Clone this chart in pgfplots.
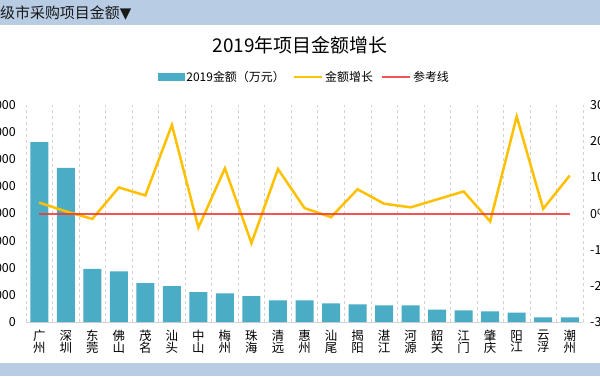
\documentclass[border=0pt]{standalone}
\usepackage{fontspec}
\setmainfont{Noto Sans CJK SC}
\newfontfamily\dejavu{DejaVu Sans}
\usepackage{pgfplots}
\pgfplotsset{compat=1.18}
\definecolor{hdr}{RGB}{184,204,228}
\definecolor{barblue}{RGB}{75,172,198}
\definecolor{gold}{RGB}{255,192,0}
\definecolor{refred}{RGB}{240,55,55}
\definecolor{gridc}{RGB}{210,210,210}
\pgfplotstableread{
x amount growth
1 6630 3.0
2 5680 0.6
3 1960 -1.5
4 1870 7.2
5 1430 5.0
6 1320 24.5
7 1100 -3.9
8 1060 12.5
9 950 -8.2
10 800 12.3
11 800 1.5
12 690 -1.0
13 650 6.7
14 610 2.7
15 610 1.7
16 460 3.9
17 430 6.1
18 390 -2.2
19 350 26.8
20 170 1.3
21 170 10.5
}\datatable
\begin{document}
\begin{tikzpicture}[x=1bp,y=1bp]
\useasboundingbox (0,0) rectangle (600,376);
\clip (0,0) rectangle (600,376);
\fill[white] (0,0) rectangle (600,376);
\fill[hdr] (0,351) rectangle (600,376);
\fill[hdr] (0,0) rectangle (600,13);
\node[anchor=west, inner sep=0, text=black!90, font=\fontsize{15}{18}\selectfont] at (0,362.5) {级市采购项目金额{\dejavu ▼}};
\node[inner sep=0, font=\fontsize{19}{23}\selectfont] at (300,330.5) {2019年项目金额增长};
\begin{axis}[
  at={(26bp,54bp)}, anchor=south west,
  scale only axis, width=557bp, height=217bp,
  xmin=0.5, xmax=21.5, ymin=0, ymax=8000,
  axis y line*=left, axis x line*=bottom,
  y axis line style={draw=none},
  x axis line style={draw=gridc, line width=0.8bp},
  xtick={1,...,21},
  xticklabels={{广\\州},{深\\圳},{东\\莞},{佛\\山},{茂\\名},{汕\\头},{中\\山},{梅\\州},{珠\\海},{清\\远},{惠\\州},{汕\\尾},{揭\\阳},{湛\\江},{河\\源},{韶\\关},{江\\门},{肇\\庆},{阳\\江},{云\\浮},{潮\\州}},
  xticklabel style={align=center, font=\fontsize{12.5}{11.8}\selectfont, inner sep=0, yshift=-8bp},
  minor xtick={0.5,1.5,...,21.5},
  xminorgrids, minor grid style={dashed, draw=gridc, line width=0.6bp},
  major tick length=0, minor tick length=0,
  ytick={0,1000,...,8000},
  yticklabels={0,1000,2000,3000,4000,5000,6000,7000,8000},
  yticklabel style={font=\fontsize{12.5}{15}\selectfont, inner sep=0, anchor=east, xshift=-10bp},
  ybar, bar width=18bp,
]
\addplot[fill=barblue, draw=none] table[x=x, y=amount] {\datatable};
\end{axis}
\begin{axis}[
  at={(26bp,54bp)}, anchor=south west,
  scale only axis, width=557bp, height=217bp,
  xmin=0.5, xmax=21.5, ymin=-30, ymax=30,
  hide x axis,
  axis y line*=right,
  y axis line style={draw=none},
  major tick length=0,
  ytick={-30,-20,...,30},
  yticklabels={-30\%,-20\%,-10\%,0\%,10\%,20\%,30\%},
  yticklabel style={font=\fontsize{12.5}{15}\selectfont, inner sep=0, anchor=west, xshift=7bp},
  legend columns=-1,
  legend style={at={(0.5,1.129)}, anchor=center, draw=none, fill=none,
    font=\fontsize{12}{14}\selectfont,
    /tikz/every even column/.append style={column sep=6bp},
    inner sep=0, nodes={inner sep=2bp}},
]
\addlegendimage{legend image code/.code={\fill[barblue] (0bp,-3.5bp) rectangle (26bp,3.5bp);}}
\addlegendentry{2019金额（万元）}
\addplot[gold, line width=2.5bp, mark=none,
  legend image code/.code={\draw[gold, line width=2.5bp] (0bp,0bp) -- (28bp,0bp);}]
  table[x=x, y=growth] {\datatable};
\addlegendentry{金额增长}
\addplot[draw=refred, line width=2bp, mark=none, opacity=0.85,
  legend image code/.code={\draw[refred, line width=2bp] (0bp,0bp) -- (28bp,0bp);}]
  coordinates {(1,0) (2,0) (3,0) (4,0) (5,0) (6,0) (7,0) (8,0) (9,0) (10,0) (11,0) (12,0) (13,0) (14,0) (15,0) (16,0) (17,0) (18,0) (19,0) (20,0) (21,0)};
\addlegendentry{参考线}
\end{axis}
\end{tikzpicture}
\end{document}
